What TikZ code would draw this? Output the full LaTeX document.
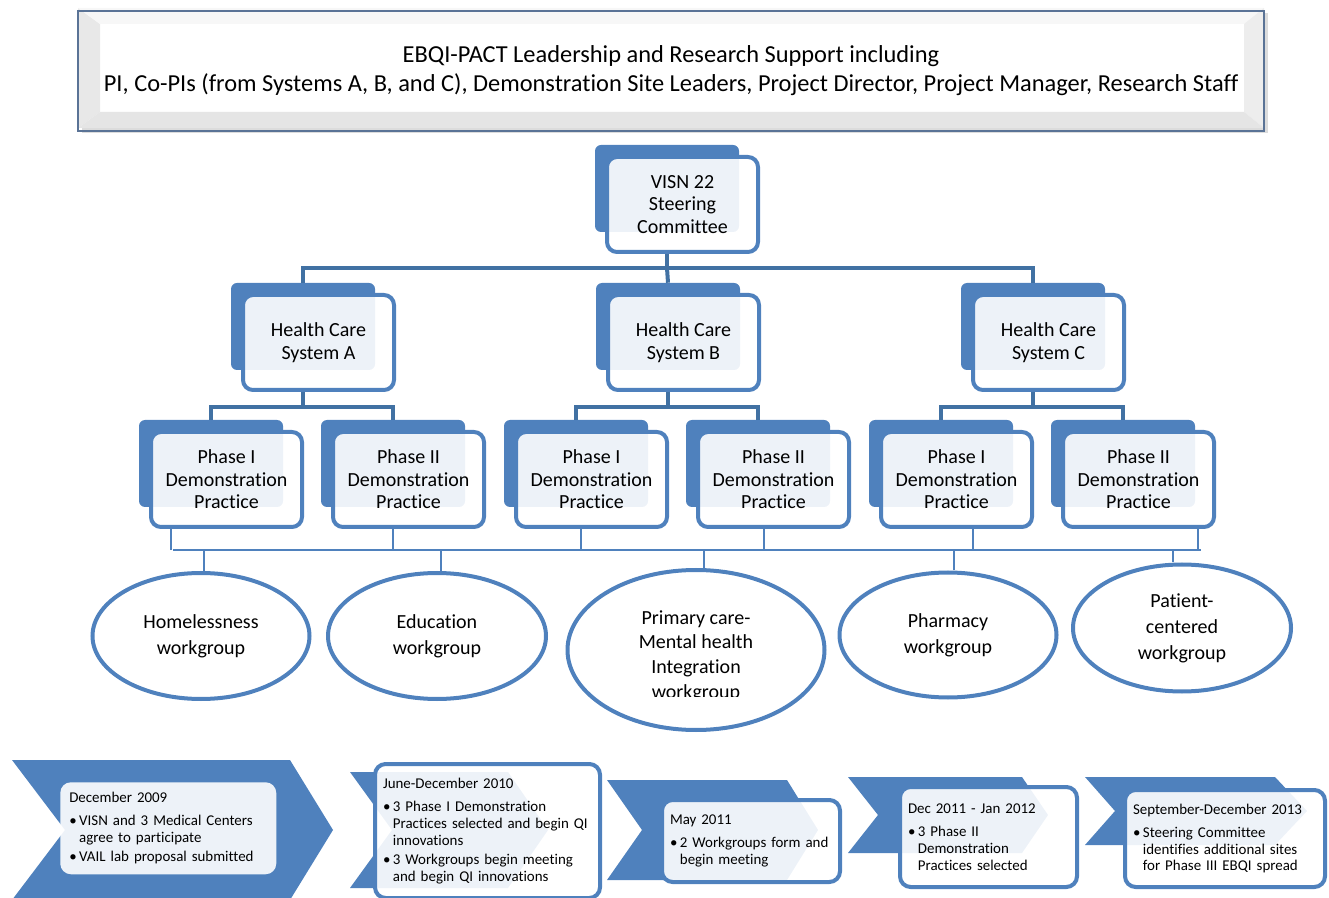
\documentclass[tikz,border=0pt]{standalone}
\usepackage{fontspec}
\setmainfont{Carlito}[Ligatures=NoCommon]
\usetikzlibrary{shapes.geometric,calc}

\definecolor{accent}{RGB}{79,129,189}
\definecolor{linkblue}{RGB}{65,113,163}
\definecolor{bannerline}{RGB}{90,115,150}

\tikzset{
  backbox/.style={fill=accent, rounded corners=4.5pt, minimum width=108pt, minimum height=65.25pt, inner sep=0pt},
  frontbox/.style={draw=accent, line width=3pt, fill=white, fill opacity=.9, text opacity=1, rounded corners=7.5pt,
    minimum width=113.25pt, minimum height=71.25pt, align=center, inner sep=0pt, font=\fontsize{15}{16.9}\selectfont},
  link/.style={draw=linkblue, line width=3pt},
  bus/.style={draw=accent, line width=1.5pt},
  workgroup/.style={ellipse, draw=accent, line width=3pt, inner sep=0pt, align=center, font=\fontsize{15}{19.5}\selectfont},
  chevron/.style={fill=accent},
  milestone/.style={fill=white, fill opacity=.9, text opacity=1, rounded corners=8pt, anchor=north west, align=left,
    inner ysep=0pt, inner xsep=6pt, font=\fontsize{11.2}{12.5}\selectfont},
  current/.style={milestone, draw=accent, line width=3pt},
  banner/.style={draw=bannerline, line width=.8pt, minimum width=889.5pt, minimum height=90pt, align=center,
    font=\fontsize{18.3}{21.75}\selectfont}
}

\newcommand\orgbox[3]{%
  \node[backbox] (#1-b) at ($#2+(-15.5,-16)$) {};
  \node[frontbox] (#1) at #2 {#3};
}
\newcommand\bul{\textbullet\,}
\newcommand\hang{\phantom{\textbullet\,}}

\begin{document}
\begin{tikzpicture}[x=0.75pt,y=-0.75pt]
            \useasboundingbox (0,0) rectangle (1329,898);

            \fill[gray!60, opacity=.45] (82,13) rectangle (1268,133);
            \fill[white] (78,8) rectangle (1264,128);
            \fill[gray!18] (78,8) -- (100,24) -- (100,112) -- (78,128) -- cycle;
            \fill[gray!6] (78,8) -- (1264,8) -- (1244,24) -- (100,24) -- cycle;
            \fill[gray!14] (1264,8) -- (1264,128) -- (1244,112) -- (1244,24) -- cycle;
            \fill[gray!20] (78,128) -- (100,112) -- (1244,112) -- (1264,128) -- cycle;
            \node[banner] (lead) at (671,71) {EBQI-PACT Leadership and Research Support including\\
                PI, Co-PIs (from Systems A, B, and C), Demonstration Site Leaders, Project Director, Project Manager, Research Staff};

            \orgbox{visn}{(682.5,204.5)}{VISN 22\\Steering\\Committee}
            \orgbox{hcA}{(318.5,342.5)}{Health Care\\System A}
            \orgbox{hcB}{(683.5,342.5)}{Health Care\\System B}
            \orgbox{hcC}{(1048.5,342.5)}{Health Care\\System C}
            \orgbox{p1A}{(226.5,479.5)}{Phase I\\Demonstration\\Practice}
            \orgbox{p2A}{(408.5,479.5)}{Phase II\\Demonstration\\Practice}
            \orgbox{p1B}{(591.5,479.5)}{Phase I\\Demonstration\\Practice}
            \orgbox{p2B}{(773.5,479.5)}{Phase II\\Demonstration\\Practice}
            \orgbox{p1C}{(956.5,479.5)}{Phase I\\Demonstration\\Practice}
            \orgbox{p2C}{(1138.5,479.5)}{Phase II\\Demonstration\\Practice}

            \draw[link] (visn-b |- visn.south) -- ++(0,14) coordinate (jtop);
            \draw[link] (hcA-b.north) |- (jtop) -| (hcC-b.north);
            \draw[link] (jtop) -- (hcB-b.north);
            \foreach \s in {A,B,C} {
                \draw[link] (hc\s-b |- hc\s.south) -- ++(0,15) coordinate (j\s);
                \draw[link] (p1\s-b.north) |- (j\s) -| (p2\s-b.north);
            }

            \node[workgroup, minimum width=162.75pt, minimum height=94.5pt] (hw) at (201,636) {Homelessness\\workgroup};
            \node[workgroup, minimum width=163.5pt, minimum height=94.5pt] (ew) at (437,636) {Education\\workgroup};
            \node[workgroup, minimum width=192.75pt, minimum height=120pt] (pw) at (696,650) {};
            \begin{scope}
                \clip (560,560) rectangle (830,696);
                \node[align=center, font=\fontsize{15}{18.5}\selectfont] (pw-text) at (696,656) {Primary care-\\Mental health\\Integration\\workgroup};
            \end{scope}
            \node[workgroup, minimum width=162.75pt, minimum height=93.75pt] (rw) at (948,635) {Pharmacy\\workgroup};
            \node[workgroup, minimum width=163.5pt, minimum height=95.25pt] (cw) at (1182,628) {Patient-\\centered\\workgroup};

            \coordinate (busL) at (173,550);
            \coordinate (busR) at (1201,550);
            \draw[bus] (busL) -- (busR);
            \foreach \n/\dx in {p1A/22,p2A/62,p1B/67,p2B/68,p1C/94,p2C/137} {
                \path ($(\n.south west)+(\dx,0)$) coordinate (up);
                \draw[bus] (up) -- (up |- busL);
            }
            \foreach \n/\dx in {hw/3,ew/4,pw/8,rw/6,cw/-9} {
                \path ($(\n.north)+(\dx,0)$) coordinate (dn);
                \draw[bus] (dn) -- (dn |- busL);
            }

            \fill[chevron] (12,760) -- (290,760) -- (333,830) -- (290,900) -- (12,900) -- (65,830) -- cycle;
            \fill[chevron] (350,772) -- (508,772) -- (548,830) -- (508,888) -- (350,888) -- (392,830) -- cycle;
            \fill[chevron] (607,780) -- (787,780) -- (818,830) -- (787,880) -- (607,880) -- (642,830) -- cycle;
            \fill[chevron] (848,777) -- (1022,777) -- (1048,815) -- (1022,853) -- (848,853) -- (878,815) -- cycle;
            \fill[chevron] (1085,777) -- (1275,777) -- (1307,811) -- (1275,845) -- (1085,845) -- (1115,811) -- cycle;

            \node[milestone, inner xsep=6.75pt, text width=148.5pt, minimum height=69pt] (m2009) at (60,782)
                {December 2009\\[5pt]\bul VISN and 3 Medical Centers\\\hang agree to participate\\[2pt]\bul VAIL lab proposal submitted};
            \node[current, text width=156.75pt, minimum height=100.5pt] (m2010) at (373,762)
                {June-December 2010\\[5pt]\bul 3 Phase I Demonstration\\\hang Practices selected and begin QI\\\hang innovations\\[2pt]\bul 3 Workgroups begin meeting\\\hang and begin QI innovations};
            \node[current, text width=121.5pt, minimum height=61.5pt] (m2011) at (660,798)
                {May 2011\\[5pt]\bul 2 Workgroups form and\\\hang begin meeting};
            \node[current, text width=120.75pt, minimum height=75pt] (m2012) at (898,785)
                {Dec 2011 - Jan 2012\\[5pt]\bul 3 Phase II\\\hang Demonstration\\\hang Practices selected};
            \node[current, text width=138pt, minimum height=72.75pt] (m2013) at (1123,788)
                {September-December 2013\\[5pt]\bul Steering Committee\\\hang identifies additional sites\\\hang for Phase III EBQI spread};
\end{tikzpicture}
\end{document}
